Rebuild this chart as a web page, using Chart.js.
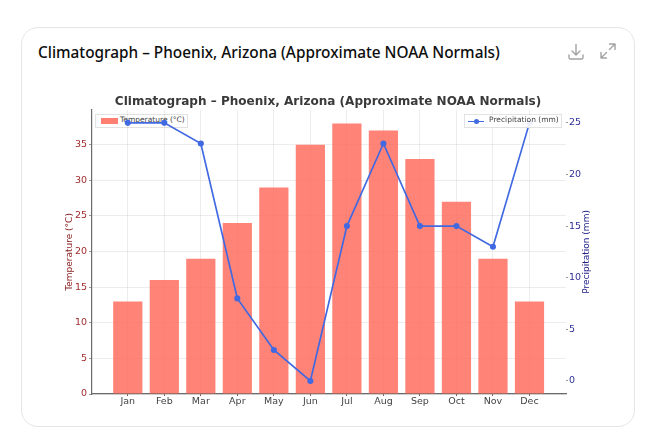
<!DOCTYPE html>
<html lang="en">

<head>
    <meta charset="UTF-8">
    <title>Climatograph</title>
    <script src="https://cdn.jsdelivr.net/npm/chart.js"></script>
    <style>
        html, body { margin: 0; padding: 0; background: #fff; }
        body { width: 650px; height: 433px; position: relative; overflow: hidden; }
        .card { position: absolute; left: 21px; top: 27px; width: 612px; height: 398px; border: 1px solid #e6e6e6; border-radius: 17px; }
        .heading { position: absolute; left: 38px; top: 42px; font: 500 15.35px "Noto Sans", sans-serif; color: #0d0d0d; white-space: nowrap; }
        .icon { position: absolute; top: 43px; }
        canvas { position: absolute; left: 64px; top: 85px; z-index: 2; }
        .legend { position: absolute; height: 12px; line-height: 12px; border: 1px solid #e2e2e2; background: rgba(255,255,255,0.9); font: 7.5px "DejaVu Sans", sans-serif; color: #444; white-space: nowrap; box-sizing: content-box; }
        .legend span { position: absolute; top: 0; }
        .legend i { position: absolute; display: block; }
        #legT { left: 95px; top: 114px; width: 91px; z-index: 1; }
        #legP { left: 464px; top: 114px; width: 96px; z-index: 3; }
    </style>
</head>

<body>
    <div class="card"></div>
    <div class="heading">Climatograph – Phoenix, Arizona (Approximate NOAA Normals)</div>
    <svg class="icon" style="left:567px" width="18" height="18" viewBox="0 0 18 18" fill="none" stroke="#a3a3a3" stroke-width="1.4" stroke-linecap="round" stroke-linejoin="round">
        <path d="M9 1.5v10M5 8l4 4 4-4M2 12v2.5a1.5 1.5 0 0 0 1.5 1.5h11a1.5 1.5 0 0 0 1.5-1.5V12" />
    </svg>
    <svg class="icon" style="left:600px" width="16" height="16" viewBox="0 0 16 16" fill="none" stroke="#a3a3a3" stroke-width="1.4" stroke-linecap="round" stroke-linejoin="round">
        <path d="M9.5 1h5.5v5.5M15 1L9.5 6.5M6.5 15H1V9.5M1 15l5.5-5.5" />
    </svg>

    <div class="legend" id="legT"><i style="left:5px;top:3px;width:17px;height:6px;background:#ff7f72"></i><span style="left:24px">Temperature (°C)</span></div>
    <div class="legend" id="legP"><i style="left:3px;top:5.5px;width:16px;height:1.5px;background:#4169e1"></i><i style="left:8.5px;top:3.5px;width:5px;height:5px;border-radius:50%;background:#4169e1"></i><span style="left:24px">Precipitation (mm)</span></div>

    <canvas id="climateChart" width="528" height="339"></canvas>

    <script>
        var months = ['Jan', 'Feb', 'Mar', 'Apr', 'May', 'Jun', 'Jul', 'Aug', 'Sep', 'Oct', 'Nov', 'Dec'];
        var temperature = [13, 16, 19, 24, 29, 35, 38, 37, 33, 27, 19, 13];
        var precipitation = [25, 25, 23, 8, 3, 0, 15, 23, 15, 15, 13, 25];
        var tempTicks = [0, 5, 10, 15, 20, 25, 30, 35];
        var precipTicks = [0, 5, 10, 15, 20, 25];

        function toPoints(values) {
            return values.map(function (v, i) { return { x: i, y: v }; });
        }

        function setTicks(list) {
            return function (scale) {
                scale.ticks = list.map(function (v) { return { value: v }; });
            };
        }

        // chart.js turns a right axis title clockwise, the reference reads bottom to top
        var rightTitle = {
            id: 'rightTitle',
            afterDraw: function (c) {
                var s = c.scales.y2;
                var g = c.ctx;
                g.save();
                g.translate(s.right - 5, (s.top + s.bottom) / 2);
                g.rotate(-Math.PI / 2);
                g.textAlign = 'center';
                g.textBaseline = 'middle';
                g.fillStyle = '#22228b';
                g.font = '9px "DejaVu Sans"';
                g.fillText('Precipitation (mm)', 0, 0);
                g.restore();
            }
        };

        var tickFont = { family: 'DejaVu Sans', size: 9.5 };
        var ctx = document.getElementById('climateChart').getContext('2d');
        var chart = new Chart(ctx, {
            plugins: [rightTitle],
            data: {
                datasets: [{
                    type: 'line',
                    label: 'Precipitation (mm)',
                    data: toPoints(precipitation),
                    yAxisID: 'y2',
                    borderColor: '#4169e1',
                    backgroundColor: '#4169e1',
                    borderWidth: 1.7,
                    pointRadius: 2.2,
                    tension: 0,
                    order: 1
                }, {
                    type: 'bar',
                    label: 'Temperature (°C)',
                    data: toPoints(temperature),
                    yAxisID: 'y',
                    backgroundColor: 'rgba(255, 100, 85, 0.8)',
                    barPercentage: 0.8,
                    categoryPercentage: 1,
                    order: 2
                }]
            },
            options: {
                responsive: false,
                animation: false,
                devicePixelRatio: 1,
                layout: { padding: 0 },
                plugins: {
                    legend: { display: false },
                    tooltip: { enabled: false },
                    title: {
                        display: true,
                        text: 'Climatograph – Phoenix, Arizona (Approximate NOAA Normals)',
                        color: '#3a3a3a',
                        font: { family: 'DejaVu Sans', size: 12.05, weight: 'bold' },
                        padding: { top: 10, bottom: 0.4 }
                    }
                },
                scales: {
                    x: {
                        type: 'linear',
                        offset: false,
                        min: -0.98,
                        max: 12,
                        afterBuildTicks: setTicks(months.map(function (m, i) { return i; })),
                        afterFit: function (scale) { scale.height = 30; },
                        ticks: {
                            color: '#444',
                            font: tickFont,
                            padding: 0,
                            maxRotation: 0,
                            autoSkip: false,
                            callback: function (v) { return months[v]; }
                        },
                        grid: { offset: false, color: 'rgba(0,0,0,0.07)', tickColor: '#8a5a50', tickLength: 2 },
                        border: { color: '#6b6b6b', width: 1.2 }
                    },
                    y: {
                        position: 'left',
                        min: 0,
                        max: 39.9,
                        afterBuildTicks: setTicks(tempTicks),
                        afterFit: function (scale) { scale.width = 28; },
                        title: { display: true, text: 'Temperature (°C)', color: '#8b2020', font: { family: 'DejaVu Sans', size: 9 }, padding: 0 },
                        ticks: { color: '#a02c2c', font: tickFont, padding: 2 },
                        grid: { color: 'rgba(0,0,0,0.07)', tickColor: '#999', tickLength: 3 },
                        border: { color: '#6b6b6b', width: 1.2 }
                    },
                    y2: {
                        position: 'right',
                        min: -1.26,
                        max: 26.26,
                        afterBuildTicks: setTicks(precipTicks),
                        afterFit: function (scale) { scale.width = 26; },
                        ticks: { color: '#2f2f96', font: tickFont, padding: 1 },
                        grid: { drawOnChartArea: false, tickColor: '#999', tickLength: 2 },
                        border: { display: false }
                    }
                }
            }
        });
    </script>
</body>

</html>
